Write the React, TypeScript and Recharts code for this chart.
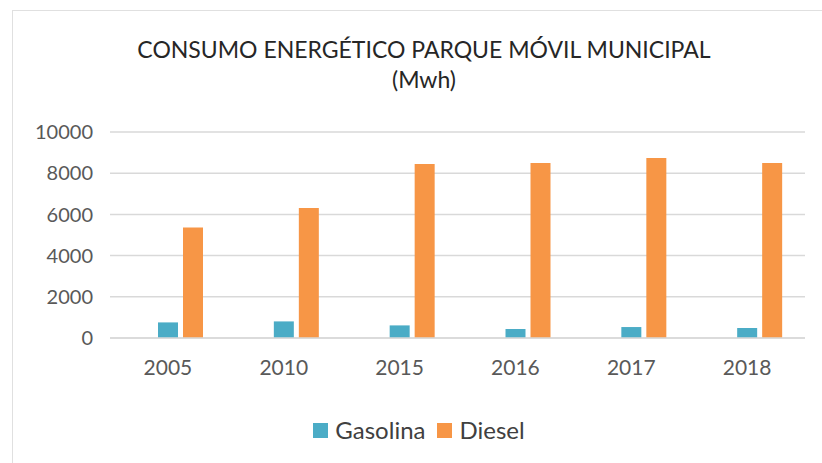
import React from 'react';
import { BarChart, Bar, XAxis, YAxis, CartesianGrid } from 'recharts';

const years = ['2005', '2010', '2015', '2016', '2017', '2018'];
const gasolina = [757, 806, 612, 437, 532, 485];
const diesel = [5370, 6310, 8450, 8500, 8740, 8490];
// Excel left an empty first series in each group, which pushes the bars to the right
const vacio: (number | null)[] = [null, null, null, null, null, null];
const yTicks = [0, 2000, 4000, 6000, 8000, 10000];

const series = [
  { key: 'Gasolina', color: '#4bacc6' },
  { key: 'Diesel', color: '#f79646' },
];

const data = years.map((year, i) => ({
  year,
  vacio: vacio[i],
  Gasolina: gasolina[i],
  Diesel: diesel[i],
}));

const font = 'Lato, "Open Sans", sans-serif';

export default function App() {
  return (
    <div
      style={{
        position: 'absolute',
        left: 0,
        top: 0,
        width: 822,
        height: 463,
        overflow: 'hidden',
        background: '#fff',
        fontFamily: font,
      }}
    >
      <div style={{ position: 'absolute', left: 12, top: 10, width: 840, height: 480, border: '1.5px solid #e0e0e0' }} />
      <div
        style={{
          position: 'absolute',
          left: 0,
          top: 34,
          width: 848,
          textAlign: 'center',
          fontSize: 23,
          lineHeight: '30px',
          color: '#262626',
        }}
      >
        CONSUMO ENERGÉTICO PARQUE MÓVIL MUNICIPAL
        <br />
        (Mwh)
      </div>
      <BarChart
        width={822}
        height={463}
        data={data}
        margin={{ top: 132, right: 17, bottom: 95, left: 0 }}
        barSize={20}
        barGap={5}
        style={{ position: 'absolute', left: 0, top: 0 }}
      >
        <CartesianGrid vertical={false} stroke="#d9d9d9" strokeWidth={1.5} />
        <XAxis
          dataKey="year"
          height={30}
          axisLine={{ stroke: '#d9d9d9', strokeWidth: 1.5 }}
          tickLine={false}
          tickMargin={16}
          tick={{ fill: '#595959', fontSize: 21, fontFamily: font }}
        />
        <YAxis
          width={110}
          domain={[0, 10000]}
          ticks={yTicks}
          axisLine={false}
          tickLine={false}
          tickMargin={11}
          tick={{ fill: '#595959', fontSize: 20, fontFamily: font }}
        />
        <Bar dataKey="vacio" fill="#ffffff" legendType="none" isAnimationActive={false} />
        {series.map((s) => (
          <Bar key={s.key} dataKey={s.key} fill={s.color} isAnimationActive={false} />
        ))}
      </BarChart>
      <div
        style={{
          position: 'absolute',
          left: -4,
          top: 414,
          width: 846,
          display: 'flex',
          justifyContent: 'center',
          alignItems: 'center',
          fontSize: 24,
          lineHeight: '32px',
          color: '#404040',
        }}
      >
        {series.map((s) => (
          <span key={s.key} style={{ display: 'flex', alignItems: 'center', margin: '0 6px' }}>
            <span style={{ display: 'inline-block', width: 15, height: 15, background: s.color, marginRight: 7 }} />
            {s.key}
          </span>
        ))}
      </div>
    </div>
  );
}
